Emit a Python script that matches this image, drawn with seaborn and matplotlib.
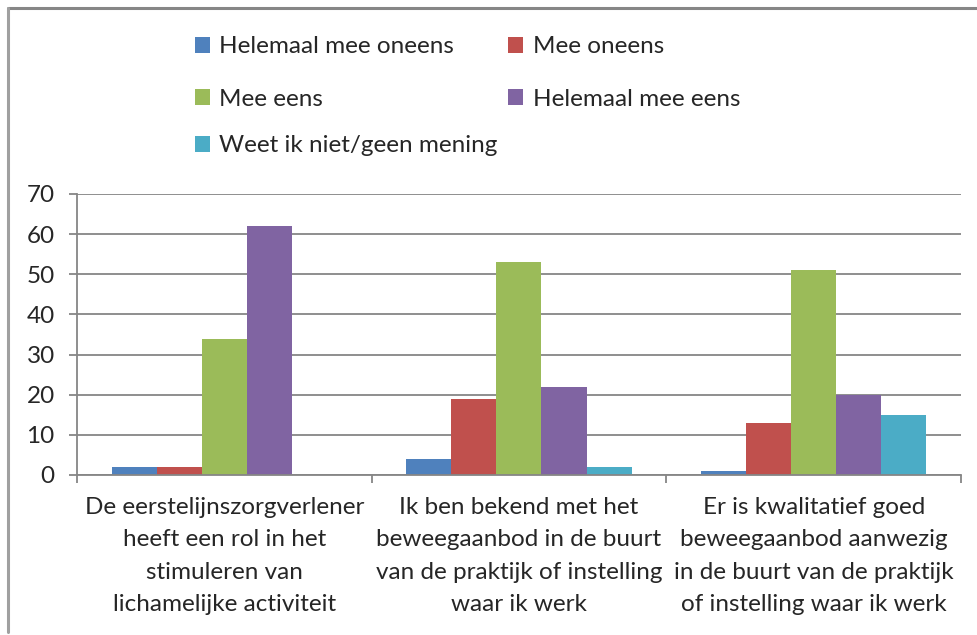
import pandas as pd
import matplotlib.pyplot as plt
import seaborn as sns
from matplotlib.lines import Line2D
from matplotlib.patches import Patch

# -----------------------------
# Data
# -----------------------------
categories = [
    "De eerstelijnszorgverlener\nheeft een rol in het\nstimuleren van\nlichamelijke activiteit",
    "Ik ben bekend met het\nbeweegaanbod in de buurt\nvan de praktijk of instelling\nwaar ik werk",
    "Er is kwalitatief goed\nbeweegaanbod aanwezig\nin de buurt van de praktijk\nof instelling waar ik werk",
]
responses = [
    "Helemaal mee oneens",
    "Mee oneens",
    "Mee eens",
    "Helemaal mee eens",
    "Weet ik niet/geen mening",
]
helemaal_oneens = [2, 4, 1]
oneens = [2, 19, 13]
eens = [34, 53, 51]
helemaal_eens = [62, 22, 20]
weet_niet = [0, 2, 15]

colors = ["#4F81BD", "#C0504D", "#9BBB59", "#8064A2", "#4BACC6"]

series = [helemaal_oneens, oneens, eens, helemaal_eens, weet_niet]
rows = []
for resp, vals in zip(responses, series):
    for cat, v in zip(categories, vals):
        rows.append({"Stelling": cat, "Antwoord": resp, "Aantal": v})
df = pd.DataFrame(rows)

# -----------------------------
# Style
# -----------------------------
sns.set_style("white")
plt.rcParams["font.family"] = ["Lato", "DejaVu Sans"]
fs = 17.5
grid_col = "#868686"

fig = plt.figure(figsize=(9.78, 6.35), dpi=100)
ax = fig.add_axes([0.0787, 0.252, 0.9039, 0.4425])

sns.barplot(data=df, x="Stelling", y="Aantal", hue="Antwoord",
            order=categories, hue_order=responses, palette=colors,
            width=0.764, linewidth=0, saturation=1, ax=ax)
ax.legend_.remove()

ax.set_ylim(0, 70)
ax.set_xlim(-0.5, 2.5)
ax.set_yticks(range(0, 71, 10))
ax.set_xlabel("")
ax.set_ylabel("")
ax.yaxis.grid(True, color=grid_col, linewidth=1.3)
ax.set_axisbelow(True)
for s in ["top", "right"]:
    ax.spines[s].set_visible(False)
for s in ["left", "bottom"]:
    ax.spines[s].set_color(grid_col)
    ax.spines[s].set_linewidth(1.3)

ax.tick_params(axis="y", labelsize=fs, length=6, width=1.3, color=grid_col,
               pad=10, left=True, direction="out")
ax.tick_params(axis="x", which="major", labelsize=fs, length=0, pad=16)
ax.set_xticks([-0.5, 0.5, 1.5, 2.5], minor=True)
ax.tick_params(axis="x", which="minor", length=6, width=1.3, color=grid_col,
               bottom=True, direction="out")
for lab in ax.get_xticklabels():
    lab.set_linespacing(1.66)

# -----------------------------
# Legend
# -----------------------------
handles = [Patch(facecolor=c, edgecolor="none") for c in colors]
order = [0, 2, 1, 3]
leg_kw = dict(frameon=False, fontsize=fs, handlelength=0.62, handleheight=0.62,
              handletextpad=0.4, borderpad=0, borderaxespad=0)
leg1 = fig.legend([handles[i] for i in order], [responses[i] for i in order],
                  ncol=2, loc="upper left", bbox_to_anchor=(0.199, 0.943),
                  labelspacing=1.3, columnspacing=2.2, **leg_kw)
leg2 = fig.legend([handles[4]], [responses[4]],
                  loc="upper left", bbox_to_anchor=(0.199, 0.787), **leg_kw)

# outer chart border (top and left visible)
y_top = 1 - 8 / 635
x_left = 8 / 978
fig.add_artist(Line2D([x_left, 1], [y_top, y_top], color=grid_col, linewidth=2.2,
                      transform=fig.transFigure))
fig.add_artist(Line2D([x_left, x_left], [0.004, y_top], color="#a0a0a0", linewidth=2.2,
                      transform=fig.transFigure))

plt.savefig("out.png", dpi=100)
